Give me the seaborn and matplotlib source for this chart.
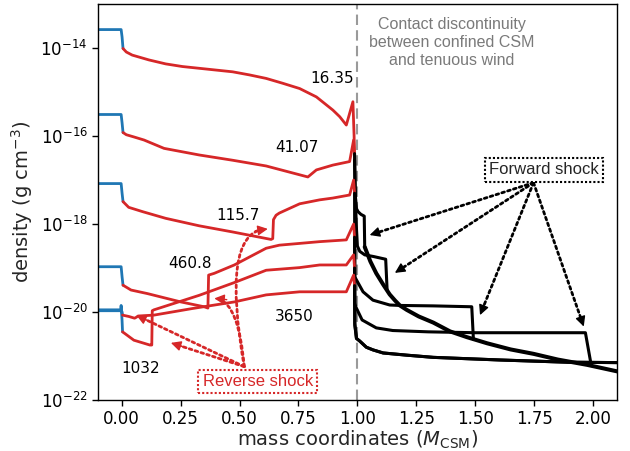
import matplotlib
matplotlib.use("Agg")
import matplotlib.pyplot as plt
import numpy as np
import pandas as pd
import seaborn as sns

sns.set_style("ticks")
plt.rcParams['font.family'] = ['DejaVu Sans']
plt.rcParams['mathtext.fontset'] = 'dejavusans'

# ---------------- data: mass coordinate (M_CSM) and log10 density (g cm^-3) -------------
labels = ["16.35", "41.07", "115.7", "460.8", "1032", "3650"]

# unshocked tenuous wind (shared by the early snapshots beyond their forward shock)
wind_x = [1.031, 1.055, 1.08, 1.11, 1.137, 1.16, 1.18, 1.209, 1.26, 1.322, 1.393, 1.464, 1.55, 1.65, 1.747,
          1.85, 1.974, 2.12]
wind_lr = [-18.52, -18.85, -19.12, -19.38, -19.6, -19.74, -19.85, -19.95, -20.1, -20.24, -20.44, -20.57,
           -20.71, -20.85, -20.95, -21.08, -21.2, -21.37]

# 16.35
t1_blue_x = [-0.15, -0.002, 0.002, 0.006]
t1_blue_lr = [-13.58, -13.58, -13.75, -14.01]
t1_red_x = [0.006, 0.02, 0.045, 0.116, 0.187, 0.258, 0.329, 0.4, 0.471, 0.542, 0.613, 0.683, 0.755, 0.826,
            0.896, 0.925, 0.953, 0.981, 0.986, 0.988]
t1_red_lr = [-14.01, -14.09, -14.16, -14.27, -14.36, -14.42, -14.46, -14.50, -14.54, -14.61, -14.69, -14.80,
             -14.92, -15.11, -15.41, -15.56, -15.75, -15.22, -16.0, -16.55]
t1_blk_x = [0.988, 0.990, 0.996, 1.003, 1.015, 1.029, 1.031]
t1_blk_lr = [-16.55, -17.3, -17.65, -17.72, -17.78, -17.82, -18.52]

# 41.07
t2_blue_x = [-0.15, -0.002, 0.002, 0.006]
t2_blue_lr = [-15.51, -15.51, -15.7, -15.92]
t2_red_x = [0.006, 0.02, 0.052, 0.095, 0.18, 0.329, 0.471, 0.613, 0.712, 0.79, 0.826, 0.896, 0.967, 0.984, 0.988]
t2_red_lr = [-15.92, -15.97, -16.02, -16.09, -16.28, -16.43, -16.55, -16.68, -16.82, -16.93, -16.77, -16.66,
             -16.58, -16.09, -16.4]
t2_blk_x = [0.988, 0.990, 0.995, 1.0, 1.01, 1.031, 1.07, 1.12, 1.126]
t2_blk_lr = [-16.4, -17.0, -18.0, -18.5, -18.62, -18.7, -18.74, -18.8, -19.5]

# 115.7
t3_blue_x = [-0.15, -0.002, 0.002, 0.006]
t3_blue_lr = [-17.08, -17.08, -17.3, -17.49]
t3_red_x = [0.006, 0.03, 0.09, 0.187, 0.329, 0.471, 0.634, 0.641, 0.644, 0.655, 0.669, 0.755, 0.84, 0.895,
            0.967, 0.984, 0.988]
t3_red_lr = [-17.49, -17.62, -17.72, -17.87, -18.04, -18.18, -18.35, -18.33, -17.9, -17.8, -17.75, -17.54,
             -17.45, -17.41, -17.34, -17.0, -17.3]
t3_blk_x = [0.988, 0.989, 0.996, 1.024, 1.066, 1.137, 1.18, 1.322, 1.485, 1.492]
t3_blk_lr = [-17.3, -19.2, -19.27, -19.54, -19.73, -19.84, -19.85, -19.86, -19.88, -20.62]

# 460.8
t4_blue_x = [-0.15, -0.002, 0.002, 0.006]
t4_blue_lr = [-18.97, -18.97, -19.2, -19.39]
t4_red_x = [0.006, 0.04, 0.109, 0.251, 0.35, 0.366, 0.369, 0.393, 0.478, 0.613, 0.669, 0.755, 0.84, 0.953,
            0.984, 0.988]
t4_red_lr = [-19.39, -19.5, -19.58, -19.77, -19.88, -19.91, -19.16, -19.12, -18.93, -18.55, -18.48, -18.44,
             -18.40, -18.36, -18.0, -18.3]
t4_blk_x = [0.988, 0.989, 0.993, 1.02, 1.08, 1.15, 1.3, 1.5, 1.967, 1.992]
t4_blk_lr = [-18.3, -19.8, -19.88, -20.18, -20.36, -20.42, -20.45, -20.47, -20.47, -21.22]

# 1032
t5_blue_x = [-0.15, -0.004, -0.002, 0.002, 0.004]
t5_blue_lr = [-19.97, -19.97, -19.85, -20.2, -20.45]
t5_red_x = [0.004, 0.052, 0.12, 0.128, 0.13, 0.137, 0.329, 0.478, 0.613, 0.755, 0.84, 0.953, 0.984, 0.988]
t5_red_lr = [-20.45, -20.64, -20.75, -20.75, -19.97, -19.95, -19.62, -19.33, -19.05, -18.99, -18.93, -18.93,
             -18.7, -19.0]
t5_blk_x = [0.988, 0.989, 0.996, 1.01, 1.038, 1.066, 1.109, 1.209, 1.322, 1.606, 1.889, 2.12]
t5_blk_lr = [-19.0, -20.26, -20.6, -20.66, -20.8, -20.86, -20.93, -20.98, -21.03, -21.09, -21.14, -21.15]

# 3650
t6_blue_x = [-0.15, -0.002, 0.002, 0.004]
t6_blue_lr = [-19.95, -19.95, -20.0, -20.07]
t6_red_x = [0.004, 0.03, 0.055, 0.062, 0.07, 0.137, 0.3, 0.478, 0.613, 0.755, 0.953, 0.984, 0.988]
t6_red_lr = [-20.07, -20.1, -20.14, -20.12, -20.09, -20.07, -19.92, -19.77, -19.61, -19.54, -19.54, -19.16, -19.4]
t6_blk_x = [0.988, 0.989, 0.996, 1.01, 1.038, 1.066, 1.109, 1.209, 1.322, 1.606, 1.889, 2.12]
t6_blk_lr = [-19.4, -20.3, -20.6, -20.66, -20.8, -20.86, -20.93, -20.98, -21.03, -21.09, -21.14, -21.15]

# label positions (x, log10 rho)
label_x = [0.893, 0.743, 0.492, 0.292, 0.081, 0.732]
label_lr = [-14.70, -16.27, -17.80, -18.89, -21.28, -20.11]

# forward-shock arrow tips, reverse-shock arrow tips
fs_tip_x = [1.052, 1.159, 1.52, 1.96]
fs_tip_lr = [-18.25, -19.11, -20.07, -20.33]
rs_tip_x = [0.62, 0.393, 0.209, 0.062]
rs_tip_lr = [-18.11, -19.69, -20.70, -20.07]

xtick_vals = [0.0, 0.25, 0.5, 0.75, 1.0, 1.25, 1.5, 1.75, 2.0]
xtick_labels = ["0.00", "0.25", "0.50", "0.75", "1.00", "1.25", "1.50", "1.75", "2.00"]
ytick_exps = [-22, -20, -18, -16, -14]

# ---------------- drawing ----------------
BLUE, RED, BLACK = "#1f77b4", "#d62728", "black"
snap_sets = [
    (t1_blue_x, t1_blue_lr, t1_red_x, t1_red_lr, t1_blk_x, t1_blk_lr),
    (t2_blue_x, t2_blue_lr, t2_red_x, t2_red_lr, t2_blk_x, t2_blk_lr),
    (t3_blue_x, t3_blue_lr, t3_red_x, t3_red_lr, t3_blk_x, t3_blk_lr),
    (t4_blue_x, t4_blue_lr, t4_red_x, t4_red_lr, t4_blk_x, t4_blk_lr),
    (t5_blue_x, t5_blue_lr, t5_red_x, t5_red_lr, t5_blk_x, t5_blk_lr),
    (t6_blue_x, t6_blue_lr, t6_red_x, t6_red_lr, t6_blk_x, t6_blk_lr),
]

fig = plt.figure(figsize=(6.30, 4.51), dpi=100)
ax = fig.add_axes([0.1556, 0.113, 0.8234, 0.878])

ax.axvline(1.0, color="#9a9a9a", lw=1.5, dashes=(5, 2.5), zorder=1.5)


def draw(xs, lrs, color, lw=2.0):
    df = pd.DataFrame({"x": xs, "rho": np.power(10.0, lrs)})
    sns.lineplot(data=df, x="x", y="rho", sort=False, estimator=None,
                 color=color, lw=lw, ax=ax, legend=False, zorder=2)


for bx, bl, rx, rl, kx, kl in snap_sets:
    draw(bx, bl, BLUE)
    draw(rx, rl, RED)
    draw(kx, kl, BLACK, lw=2.2)
draw(wind_x, wind_lr, BLACK, lw=2.9)

ax.set_yscale("log")
ax.set_xlim(-0.1, 2.1)
ax.set_ylim(1e-22, 1e-13)
ax.set_xticks(xtick_vals)
ax.set_xticklabels(xtick_labels)
ax.yaxis.set_major_locator(matplotlib.ticker.FixedLocator([10.0 ** e for e in ytick_exps]))
ax.yaxis.set_minor_locator(matplotlib.ticker.NullLocator())
ax.tick_params(labelsize=12, length=4, width=1, colors="black")
for s in ax.spines.values():
    s.set_visible(True)
    s.set_color("black")
    s.set_linewidth(1.0)
ax.set_xlabel(r"mass coordinates ($M_{\rm CSM}$)", fontsize=14, labelpad=0)
ax.set_ylabel(r"density (g cm$^{-3}$)", fontsize=14, labelpad=4)

for t, lx, ll in zip(labels, label_x, label_lr):
    ax.text(lx, 10.0 ** ll, t, fontsize=11, ha="center", va="center", color="black")

sans = ["Liberation Sans", "DejaVu Sans"]
ax.text(1.40, 10.0 ** -13.88, "Contact discontinuity\nbetween confined CSM\nand tenuous wind",
        fontsize=11.5, family=sans, color="#7a7a7a", ha="center", va="center", linespacing=1.25)


def dotted_arrow(tip, origin, color, cs="arc3,rad=0", head_dir=None):
    ax.annotate("", xy=tip, xytext=origin,
                arrowprops=dict(arrowstyle="-", linestyle=(0, (1, 1.2)), lw=2, color=color,
                                shrinkA=0, shrinkB=3, connectionstyle=cs), zorder=4)
    if head_dir is None:
        p0 = ax.transData.transform(origin)
        p1 = ax.transData.transform(tip)
        v = (p1 - p0) / np.hypot(*(p1 - p0))
    else:
        v = np.array(head_dir, float)
    ax.annotate("", xy=tip, xytext=(-v[0] * 9, -v[1] * 9), textcoords="offset points",
                arrowprops=dict(arrowstyle="-|>", lw=1, color=color, mutation_scale=15,
                                shrinkA=0, shrinkB=0), zorder=4)


# Forward shock box and arrows
fs_origin = (1.747, 10.0 ** -17.06)
for tx, tl in zip(fs_tip_x, fs_tip_lr):
    dotted_arrow((tx, 10.0 ** tl), fs_origin, "black")
ax.text(1.79, 10.0 ** -16.77, "Forward shock", fontsize=12, family=sans, ha="center", va="center",
        bbox=dict(boxstyle="square,pad=0.25", fc="white", ec="black", ls=(0, (1, 1)), lw=1.5), zorder=5)

# Reverse shock box and arrows
rs_origin = (0.52, 10.0 ** -21.24)
rs_styles = ["angle3,angleA=100,angleB=0", "angle3,angleA=95,angleB=0", "arc3,rad=0", "arc3,rad=0"]
rs_heads = [(1, 0.15), (-1, 0.1), None, None]
for tx, tl, cs, hd in zip(rs_tip_x, rs_tip_lr, rs_styles, rs_heads):
    dotted_arrow((tx, 10.0 ** tl), rs_origin, RED, cs, hd)
ax.text(0.577, 10.0 ** -21.58, "Reverse shock", fontsize=12, family=sans, color=RED, ha="center", va="center",
        bbox=dict(boxstyle="square,pad=0.25", fc="white", ec=RED, ls=(0, (1, 1)), lw=1.5), zorder=5)

fig.savefig("out.png", dpi=100)
